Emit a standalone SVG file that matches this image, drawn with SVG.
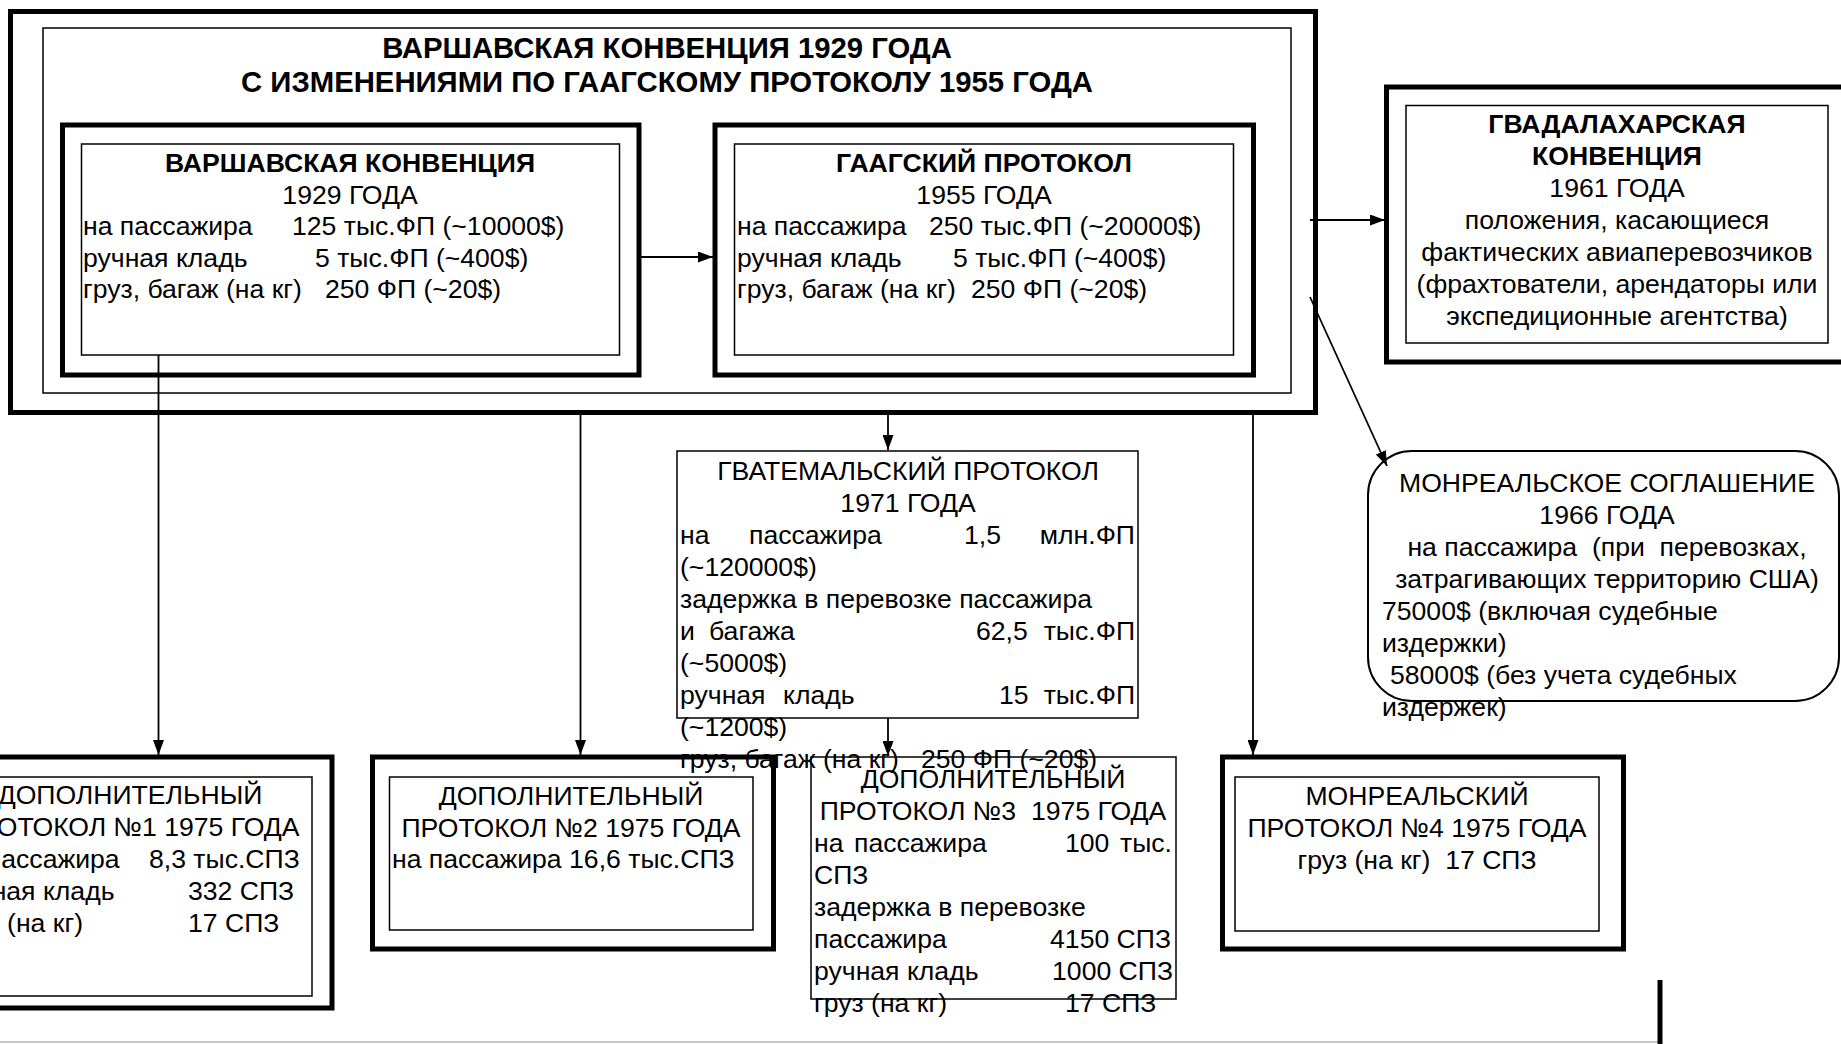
<svg xmlns="http://www.w3.org/2000/svg" width="1841" height="1044" viewBox="0 0 1841 1044">
<style>
text { font-family: "Liberation Sans", Arial, sans-serif; font-size: 26.6px; fill: #000; }
.b { font-weight: bold; }
.c { text-anchor: middle; }
.e { text-anchor: end; }
.title { font-size: 29.3px; font-weight: bold; text-anchor: middle; }
.thick { fill: none; stroke: #000; stroke-width: 5; }
.thin { fill: none; stroke: #000; stroke-width: 1.5; }
.conn { fill: none; stroke: #000; stroke-width: 1.8; }
</style>
<defs>
<marker id="arr" markerUnits="userSpaceOnUse" markerWidth="16" markerHeight="11" refX="15" refY="5.5" orient="auto">
<path d="M0,0 L15,5.5 L0,11 z" fill="#000"/>
</marker>
</defs>
<rect x="0" y="0" width="1841" height="1044" fill="#fff"/>
<line x1="0" y1="1042" x2="1658" y2="1042" stroke="#c8c8c8" stroke-width="2"/>
<line x1="1660" y1="980" x2="1660" y2="1044" stroke="#000" stroke-width="5"/>

<g id="outer">
<rect class="thick" x="10.5" y="11.5" width="1305" height="401"/>
<rect class="thin" x="43" y="28" width="1248" height="365"/>
<text class="title" x="667" y="58">ВАРШАВСКАЯ КОНВЕНЦИЯ 1929 ГОДА</text>
<text class="title" x="667" y="92">С ИЗМЕНЕНИЯМИ ПО ГААГСКОМУ ПРОТОКОЛУ 1955 ГОДА</text>
</g>

<g id="warsaw">
<rect class="thick" x="62.5" y="125" width="576.5" height="250"/>
<rect class="thin" x="81.5" y="144" width="538" height="211"/>
<text class="b c" x="350" y="172">ВАРШАВСКАЯ КОНВЕНЦИЯ</text>
<text class="c" x="350" y="204">1929 ГОДА</text>
<text x="83" y="235">на пассажира</text><text x="292" y="235">125 тыс.ФП (~10000$)</text>
<text x="83" y="267">ручная кладь</text><text x="315" y="267">5 тыс.ФП (~400$)</text>
<text x="83" y="298">груз, багаж (на кг)</text><text x="325" y="298">250 ФП (~20$)</text>
</g>

<g id="hague">
<rect class="thick" x="715" y="125" width="538.5" height="250"/>
<rect class="thin" x="734.5" y="144" width="499" height="211"/>
<text class="b c" x="984" y="172">ГААГСКИЙ ПРОТОКОЛ</text>
<text class="c" x="984" y="204">1955 ГОДА</text>
<text x="737" y="235">на пассажира</text><text x="929" y="235">250 тыс.ФП (~20000$)</text>
<text x="737" y="267">ручная кладь</text><text x="953" y="267">5 тыс.ФП (~400$)</text>
<text x="737" y="298">груз, багаж (на кг)</text><text x="971" y="298">250 ФП (~20$)</text>
</g>

<g id="guadalajara">
<rect class="thick" x="1386.5" y="87" width="460" height="275"/>
<rect class="thin" x="1406" y="105.5" width="422" height="237.5"/>
<text class="b c" x="1617" y="133">ГВАДАЛАХАРСКАЯ</text>
<text class="b c" x="1617" y="165">КОНВЕНЦИЯ</text>
<text class="c" x="1617" y="197">1961 ГОДА</text>
<text class="c" x="1617" y="229">положения, касающиеся</text>
<text class="c" x="1617" y="261">фактических авиаперевозчиков</text>
<text class="c" x="1617" y="293">(фрахтователи, арендаторы или</text>
<text class="c" x="1617" y="325">экспедиционные агентства)</text>
</g>

<g id="montreal-agreement">
<rect class="thin" x="1368" y="451" width="471" height="250" rx="44" ry="44" style="stroke-width:2"/>
<text class="c" x="1607" y="492">МОНРЕАЛЬСКОЕ СОГЛАШЕНИЕ</text>
<text class="c" x="1607" y="524">1966 ГОДА</text>
<text class="c" x="1607" y="556" xml:space="preserve">на пассажира  (при  перевозках,</text>
<text class="c" x="1607" y="588">затрагивающих территорию США)</text>
<text x="1382" y="620">75000$ (включая судебные</text>
<text x="1382" y="652">издержки)</text>
<text x="1390" y="684">58000$ (без учета судебных</text>
<text x="1382" y="716">издержек)</text>
</g>

<g id="guatemala">
<rect class="thin" x="677" y="451" width="461" height="267"/>
<text class="c" x="908" y="480">ГВАТЕМАЛЬСКИЙ ПРОТОКОЛ</text>
<text class="c" x="908" y="512">1971 ГОДА</text>
<text x="680" y="544">на</text><text x="749" y="544">пассажира</text><text x="964" y="544">1,5</text><text class="e" x="1135" y="544">млн.ФП</text>
<text x="680" y="576">(~120000$)</text>
<text x="680" y="608">задержка в перевозке пассажира</text>
<text x="680" y="640">и</text><text x="709" y="640">багажа</text><text x="976" y="640">62,5</text><text class="e" x="1135" y="640">тыс.ФП</text>
<text x="680" y="672">(~5000$)</text>
<text x="680" y="704">ручная</text><text x="783" y="704">кладь</text><text x="999" y="704">15</text><text class="e" x="1135" y="704">тыс.ФП</text>
<text x="680" y="736">(~1200$)</text>
<text x="680" y="768">груз, багаж (на кг)</text><text x="921" y="768">250 ФП (~20$)</text>
</g>

<g id="dop1">
<rect class="thick" x="-72" y="757" width="404" height="251"/>
<rect class="thin" x="-52" y="777" width="364" height="219"/>
<text class="c" x="130" y="804">ДОПОЛНИТЕЛЬНЫЙ</text>
<text class="c" x="130" y="836">ПРОТОКОЛ №1 1975 ГОДА</text>
<text x="-50" y="868">на пассажира</text><text x="149" y="868">8,3 тыс.СПЗ</text>
<text x="-50" y="900">ручная кладь</text><text x="188" y="900">332 СПЗ</text>
<text x="-50" y="932">груз (на кг)</text><text x="188" y="932">17 СПЗ</text>
</g>

<g id="dop2">
<rect class="thick" x="372.5" y="757" width="401" height="192"/>
<rect class="thin" x="389.5" y="777" width="363.5" height="153"/>
<text class="c" x="571" y="805">ДОПОЛНИТЕЛЬНЫЙ</text>
<text class="c" x="571" y="837">ПРОТОКОЛ №2 1975 ГОДА</text>
<text x="392" y="868">на пассажира 16,6 тыс.СПЗ</text>
</g>

<g id="dop3">
<rect class="thin" x="811" y="757" width="365" height="242"/>
<text class="c" x="993" y="788">ДОПОЛНИТЕЛЬНЫЙ</text>
<text class="c" x="993" y="820" xml:space="preserve">ПРОТОКОЛ №3  1975 ГОДА</text>
<text x="814" y="852">на</text><text x="854" y="852">пассажира</text><text x="1065" y="852">100</text><text class="e" x="1172" y="852">тыс.</text>
<text x="814" y="884">СПЗ</text>
<text x="814" y="916">задержка в перевозке</text>
<text x="814" y="948">пассажира</text><text class="e" x="1171" y="948">4150 СПЗ</text>
<text x="814" y="980">ручная кладь</text><text class="e" x="1173" y="980">1000 СПЗ</text>
<text x="814" y="1012">груз (на кг)</text><text x="1065" y="1012">17 СПЗ</text>
</g>

<g id="montreal4">
<rect class="thick" x="1222.5" y="757" width="401" height="192"/>
<rect class="thin" x="1235" y="777" width="364" height="154"/>
<text class="c" x="1417" y="805">МОНРЕАЛЬСКИЙ</text>
<text class="c" x="1417" y="837">ПРОТОКОЛ №4 1975 ГОДА</text>
<text class="c" x="1417" y="869" xml:space="preserve">груз (на кг)  17 СПЗ</text>
</g>

<g id="connectors">
<line class="conn" x1="640" y1="257" x2="713" y2="257" marker-end="url(#arr)"/>
<line class="conn" x1="1310" y1="220" x2="1385" y2="220" marker-end="url(#arr)"/>
<line class="conn" x1="1310" y1="297" x2="1387" y2="466" marker-end="url(#arr)"/>
<line class="conn" x1="158.5" y1="355" x2="158.5" y2="755" marker-end="url(#arr)"/>
<line class="conn" x1="580.5" y1="413" x2="580.5" y2="755" marker-end="url(#arr)"/>
<line class="conn" x1="888" y1="413" x2="888" y2="450" marker-end="url(#arr)"/>
<line class="conn" x1="888" y1="718" x2="888" y2="756" marker-end="url(#arr)"/>
<line class="conn" x1="1253" y1="413" x2="1253" y2="755" marker-end="url(#arr)"/>
</g>
</svg>
